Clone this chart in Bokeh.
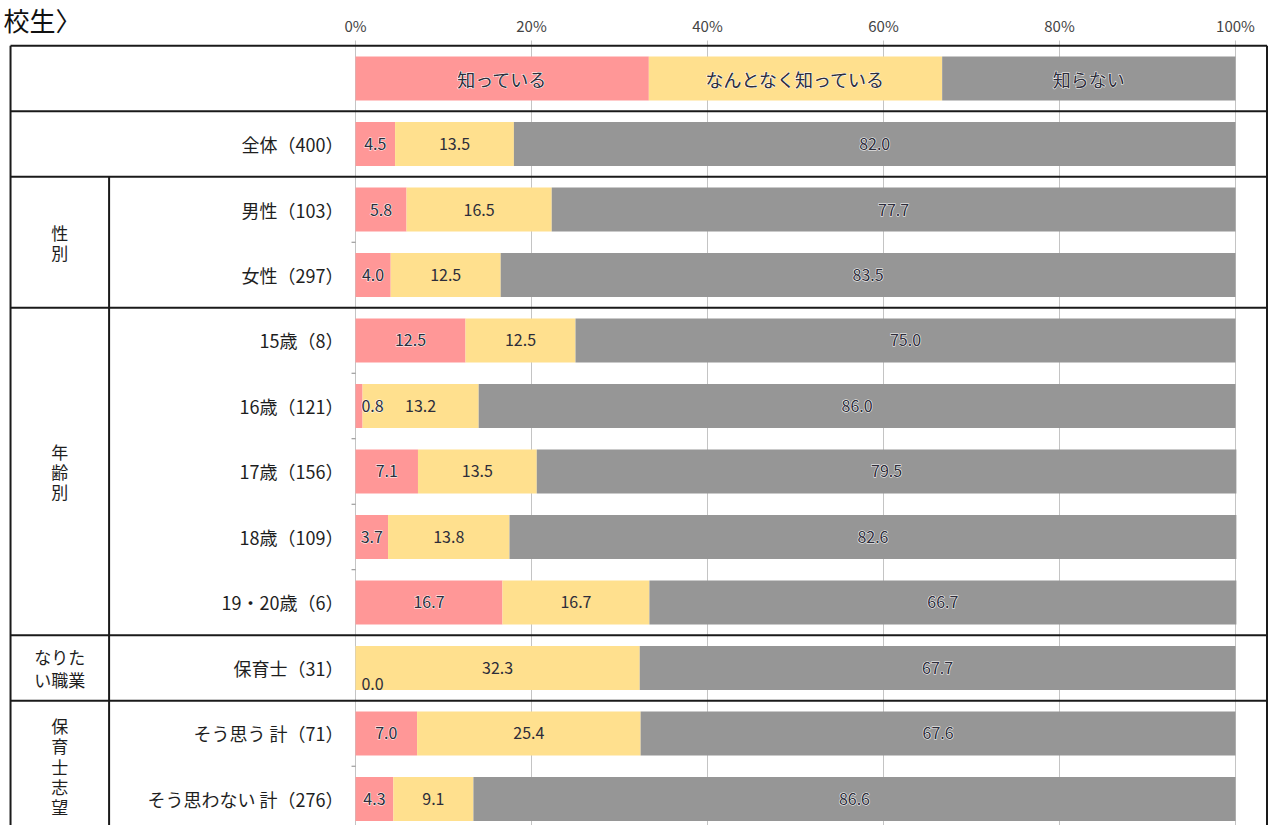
from bokeh.plotting import figure
from bokeh.models import Range1d, ColumnDataSource
from bokeh.core.properties import value
from bokeh.embed import file_html
from bokeh.resources import INLINE

FONT = "Noto Sans CJK JP"

# ---------------- data ----------------
title_text = "校生〉"
categories = ["全体（400）", "男性（103）", "女性（297）", "15歳（8）", "16歳（121）",
              "17歳（156）", "18歳（109）", "19・20歳（6）", "保育士（31）",
              "そう思う 計（71）", "そう思わない 計（276）"]
known = [4.5, 5.8, 4.0, 12.5, 0.8, 7.1, 3.7, 16.7, 0.0, 7.0, 4.3]
somewhat = [13.5, 16.5, 12.5, 12.5, 13.2, 13.5, 13.8, 16.7, 32.3, 25.4, 9.1]
unknown = [82.0, 77.7, 83.5, 75.0, 86.0, 79.5, 82.6, 66.7, 67.7, 67.6, 86.6]
series_names = ["知っている", "なんとなく知っている", "知らない"]
group_names = ["性\n別", "年\n齢\n別", "なりた\nい職業", "保\n育\n士\n志\n望"]
group_first_row = [2, 4, 9, 10]
group_last_row = [3, 8, 9, 11]
ticks = [0, 20, 40, 60, 80, 100]
tick_labels = ["0%", "20%", "40%", "60%", "80%", "100%"]

# ---------------- style / layout ----------------
colors = ["#FF9797", "#FFE08E", "#969696"]
halo = [True, False, True]
TEXT = "#2d2d3a"
W, H = 1268, 825
X0, X1 = -40.34, 103.75
Y_BOTTOM, Y_TOP = 11.405, -1.191
TABLE_LEFT, COL_DIV, TABLE_RIGHT = -39.2, -28.0, 103.58
BAR_H = 0.672
TICK_Y = -0.81
GRID_TOP = -0.58

p = figure(width=W, height=H, output_backend="svg", toolbar_location=None,
           x_range=Range1d(X0, X1), y_range=Range1d(Y_BOTTOM, Y_TOP),
           x_axis_location=None, y_axis_location=None,
           min_border=0, outline_line_color=None,
           background_fill_color="white", border_fill_color="white")
p.xgrid.visible = False
p.ygrid.visible = False

bottom = len(categories) + 0.6

# grid lines + tick labels
p.segment(x0=ticks, x1=ticks, y0=[GRID_TOP] * len(ticks), y1=[bottom] * len(ticks),
          line_color="#c4c4c4", line_width=1)
p.text(x=ticks, y=[TICK_Y] * len(ticks), text=tick_labels, text_align="center",
       text_baseline="middle", text_font=value(FONT), text_font_size="15px",
       text_color="#444444")


def halo_text(**kw):
    p.text(text_outline_color="white", **kw)
    p.text(**kw)


# ---------------- legend row (row 0) ----------------
n_s = len(series_names)
leg_left = [100 * k / n_s for k in range(n_s)]
leg_right = [100 * (k + 1) / n_s for k in range(n_s)]
p.hbar(y=[0] * n_s, left=leg_left, right=leg_right, height=BAR_H,
       fill_color=colors, line_color=None)
halo_text(x=[(a + b) / 2 for a, b in zip(leg_left, leg_right)], y=[0] * n_s,
          text=series_names, text_align="center", text_baseline="middle",
          text_font=value(FONT), text_font_size="18px", text_color=TEXT)

# ---------------- bars ----------------
rows = list(range(1, len(categories) + 1))
series = [known, somewhat, unknown]
cum = [0.0] * len(rows)
lab = {True: dict(x=[], y=[], t=[], a=[], xo=[], yo=[]),
       False: dict(x=[], y=[], t=[], a=[], xo=[], yo=[])}
for s_i, vals in enumerate(series):
    left = cum[:]
    right = [c + v for c, v in zip(cum, vals)]
    p.hbar(y=rows, left=left, right=right, height=BAR_H,
           fill_color=colors[s_i], line_color=None)
    for r, a, b, v in zip(rows, left, right, vals):
        d = lab[halo[s_i] and v > 0]
        if v < 2:
            d["x"].append(a); d["a"].append("left"); d["xo"].append(6)
            d["yo"].append(16 if v == 0 else 0)
        else:
            d["x"].append((a + b) / 2); d["a"].append("center")
            d["xo"].append(0); d["yo"].append(0)
        d["y"].append(r)
        d["t"].append(f"{v:.1f}")
    cum = right

common = dict(x="x", y="y", text="t", text_align="a", x_offset="xo", y_offset="yo",
              text_baseline="middle", text_font=value(FONT),
              text_font_size="16px", text_color=TEXT)
src_halo = ColumnDataSource(lab[True])
src_plain = ColumnDataSource(lab[False])
halo_text(source=src_halo, **common)
p.text(source=src_plain, **common)

# ---------------- row labels ----------------
p.text(x=[0] * len(rows), y=rows, text=categories, x_offset=-12,
       text_align="right", text_baseline="middle", text_font=value(FONT),
       text_font_size="18px", text_color="#1e1e1e")

# ---------------- group labels ----------------
gx = (TABLE_LEFT + COL_DIV) / 2
for name, a, b in zip(group_names, group_first_row, group_last_row):
    lh = 0.93 if "な" in name else 0.81
    p.text(x=[gx], y=[(a + b) / 2], text=[name], text_align="center",
           text_baseline="middle", text_font=value(FONT), text_font_size="17px",
           text_color="#1e1e1e", text_line_height=lh)

# ---------------- table lines ----------------
full_seps = [-0.5, 0.5, 1.5, 3.5, 8.5, 9.5]
p.segment(x0=[TABLE_LEFT] * len(full_seps), x1=[TABLE_RIGHT] * len(full_seps),
          y0=full_seps, y1=full_seps, line_color="#1a1a1a", line_width=2)
p.segment(x0=[TABLE_LEFT, TABLE_RIGHT, COL_DIV], x1=[TABLE_LEFT, TABLE_RIGHT, COL_DIV],
          y0=[-0.5, -0.5, 1.5], y1=[bottom, bottom, bottom],
          line_color="#1a1a1a", line_width=2)
inner = [2.5, 4.5, 5.5, 6.5, 7.5, 10.5]
p.segment(x0=[-0.45] * len(inner), x1=[0] * len(inner), y0=inner, y1=inner,
          line_color="#888888", line_width=1)

# ---------------- title fragment ----------------
p.text(x=[X0], y=[-0.9], text=[title_text], text_align="left", x_offset=3,
       text_baseline="middle", text_font=value(FONT), text_font_size="26px",
       text_color="#111111")

open("out.html", "w").write(file_html(p, INLINE))
